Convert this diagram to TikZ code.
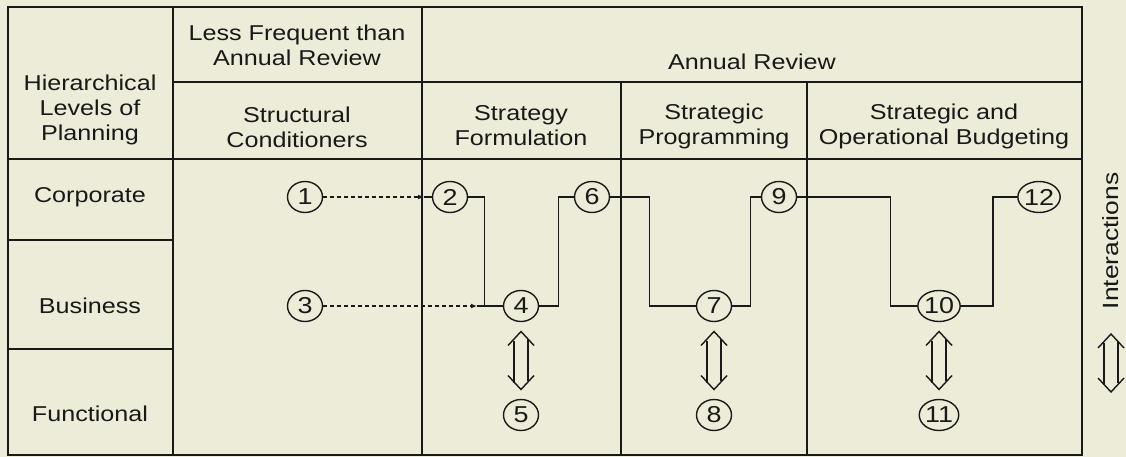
\documentclass[tikz,border=0pt]{standalone}
\usepackage{fontspec}
\setmainfont{Liberation Sans}
\usetikzlibrary{arrows.meta,calc,shapes.geometric}
\definecolor{paper}{RGB}{237,236,216}
\definecolor{ink}{RGB}{25,25,25}
\newcommand{\hwide}[1]{\scalebox{1.17}[1]{#1}}
\begin{document}
\begin{tikzpicture}[x=1pt,y=-1pt,
  outer/.style={draw=ink,line width=2pt},
  rule/.style={draw=ink,line width=1.5pt},
  lbl/.style={text=ink,font=\fontsize{21.5}{25}\selectfont,align=center,inner sep=0pt},
  num/.style={ellipse,draw=ink,line width=1.4pt,minimum width=35pt,minimum height=31pt,inner sep=0pt,text=ink,font=\fontsize{23}{23}\selectfont},
  conn/.style={draw=ink,line width=1.4pt},
  dconn/.style={conn,dash pattern=on 4pt off 3pt,-{Latex[length=6pt,width=5pt]}},
  inter/.pic={
    \draw[ink,line width=1.4pt] (-13,-15) -- (0,-29) -- (13,-15);
    \draw[ink,line width=1.4pt] (13,15) -- (0,29) -- (-13,15);
    \draw[ink,line width=1.4pt] (-7,-20) -- (-7,22);
    \draw[ink,line width=1.4pt] (7,-22) -- (7,20);
  }]
\fill[paper] (0,0) rectangle (1126,457);
\useasboundingbox (0,0) rectangle (1126,457);

% frame
\draw[outer] (8,7) rectangle (1082,455);
\draw[rule] (173,7) -- (173,455);
\draw[rule] (422,7) -- (422,455);
\draw[rule] (621,82) -- (621,455);
\draw[rule] (807,82) -- (807,455);
\draw[rule] (173,82) -- (1082,82);
\draw[rule] (8,159) -- (1082,159);
\draw[rule] (8,240) -- (173,240);
\draw[rule] (8,349) -- (173,349);

% header texts
\node[lbl] (hlp) at (90,110) {\hwide{Hierarchical}\\\hwide{Levels of}\\\hwide{Planning}};
\node[lbl] (lfa) at (297,45) {\hwide{Less Frequent than}\\\hwide{Annual Review}};
\node[lbl] (ar) at (752,62) {\hwide{Annual Review}};
\node[lbl] (sc) at (297,127) {\hwide{Structural}\\\hwide{Conditioners}};
\node[lbl] (sf) at (521,126) {\hwide{Strategy}\\\hwide{Formulation}};
\node[lbl] (sp) at (714,126) {\hwide{Strategic}\\\hwide{Programming}};
\node[lbl] (sob) at (944,126) {\hwide{Strategic and}\\\hwide{Operational Budgeting}};

% row labels
\node[lbl] (corp) at (90,197) {\hwide{Corporate}};
\node[lbl] (bus) at (90,306) {\hwide{Business}};
\node[lbl] (fun) at (90,414) {\hwide{Functional}};

% numbered steps
\node[num] (n1) at (305,197) {\hwide{1}};
\node[num] (n2) at (450,197) {\hwide{2}};
\node[num] (n3) at (305,306) {\hwide{3}};
\node[num] (n4) at (521,306) {\hwide{4}};
\node[num] (n5) at (521,415) {\hwide{5}};
\node[num] (n6) at (592,197) {\hwide{6}};
\node[num] (n7) at (714,306) {\hwide{7}};
\node[num] (n8) at (714,415) {\hwide{8}};
\node[num] (n9) at (779,197) {\hwide{9}};
\node[num] (n10) at (939,306) {\hwide{10}};
\node[num] (n11) at (939,415) {\hwide{11}};
\node[num] (n12) at (1039,197) {\hwide{12}};

% dashed inputs
\coordinate (a12) at (424,197);
\coordinate (a34) at (477,306);
\draw[dconn] (n1) -- (a12);
\draw[conn] (a12) -- (n2);
\draw[dconn] (n3) -- (a34);
\draw[conn] (a34) -- (n4);

% step connectors
\draw[conn] (n2.east) -- ++(16,0) |- (n4.west);
\draw[conn] (n4.east) -- ++(19,0) |- (n6.west);
\draw[conn] (n6.east) -- ++(39,0) |- (n7.west);
\draw[conn] (n7.east) -- ++(18,0) |- (n9.west);
\draw[conn] (n9.east) -- ++(93,0) |- (n10.west);
\draw[conn] (n10.east) -- ++(32,0) |- (n12.west);

% interactions
\pic at ($(n4)!0.5!(n5)$) {inter};
\pic at ($(n7)!0.5!(n8)$) {inter};
\pic at ($(n10)!0.5!(n11)$) {inter};
\pic at (1111,363) {inter};
\node[lbl,rotate=90,font=\fontsize{22}{25}\selectfont] (intl) at (1111,241) {\scalebox{1.2}[1]{Interactions}};
\end{tikzpicture}
\end{document}
